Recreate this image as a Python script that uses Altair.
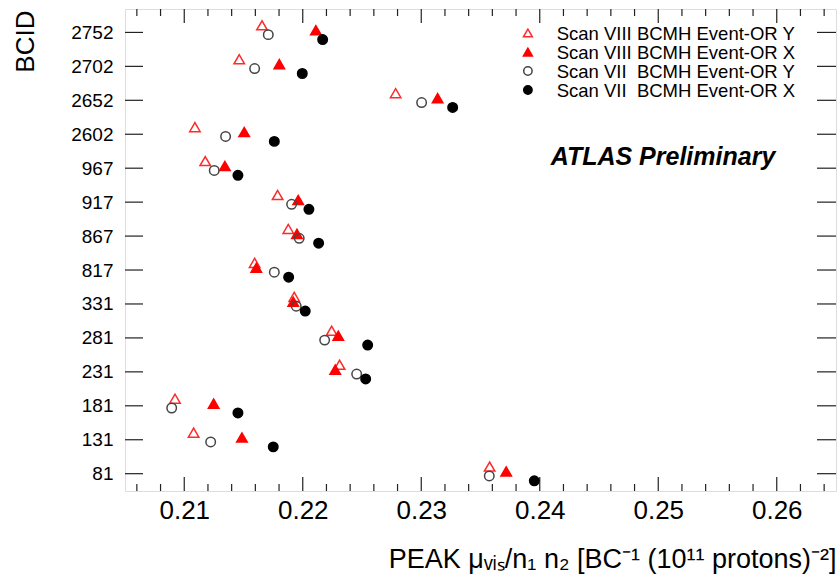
import altair as alt
import pandas as pd

# ---------------- data ----------------
bcid_labels = ["81", "131", "181", "231", "281", "331", "817", "867",
               "917", "967", "2602", "2652", "2702", "2752"]

series_names = [
    "Scan VIII BCMH Event-OR Y",
    "Scan VIII BCMH Event-OR X",
    "Scan VII\u00a0 BCMH Event-OR Y",
    "Scan VII\u00a0 BCMH Event-OR X",
]

scan8_y = [0.23577, 0.21079, 0.20922, 0.22311, 0.22244, 0.21928, 0.21594,
           0.21878, 0.21788, 0.21177, 0.21090, 0.22784, 0.21464, 0.21656]
scan8_x = [0.23717, 0.21487, 0.21248, 0.22274, 0.22300, 0.21920, 0.21608,
           0.21951, 0.21962, 0.21343, 0.21506, 0.23138, 0.21802, 0.22111]
scan7_y = [0.23574, 0.21223, 0.20894, 0.22455, 0.22185, 0.21945, 0.21760,
           0.21970, 0.21906, 0.21253, 0.21349, 0.23003, 0.21594, 0.21709]
scan7_x = [0.23954, 0.21751, 0.21453, 0.22531, 0.22548, 0.22021, 0.21881,
           0.22134, 0.22052, 0.21453, 0.21760, 0.23265, 0.21996, 0.22168]

y_offsets = [0.21, 0.065, -0.065, -0.21]
series_shapes = ["triangle-up", "triangle-up", "circle", "circle"]
series_fill = ["transparent", "#ff0000", "transparent", "#000000"]
series_stroke = ["#ff2a2a", "#ff0000", "#444444", "#000000"]

x_major = [0.21, 0.22, 0.23, 0.24, 0.25, 0.26]
x_minor = [round(0.206 + 0.002 * k, 3) for k in range(30)]
x_minor = [v for v in x_minor if all(abs(v - m) > 1e-6 for m in x_major)]

atlas_text = ["ATLAS Preliminary"]
atlas_x = [0.2504]
atlas_y = [9.1]

# legend placement (in data coordinates of the plot)
legend_symbol_x = 0.23900
legend_text_x = 0.24143
legend_rows_y = [12.983, 12.423, 11.863, 11.303]

rows = []
for s, vals, off in zip(series_names, [scan8_y, scan8_x, scan7_y, scan7_x], y_offsets):
    for i, v in enumerate(vals):
        rows.append({"series": s, "bcid": bcid_labels[i], "peak": v, "pos": i + off})
df = pd.DataFrame(rows)

leg_df = pd.DataFrame({
    "series": series_names,
    "sx": [legend_symbol_x] * 4,
    "tx": [legend_text_x] * 4,
    "ly": legend_rows_y,
})

# ---------------- layout ----------------
W, H = 711, 482
FONT = "Liberation Sans"
FRAME = "#222222"

xscale = alt.Scale(domain=[0.205, 0.265], nice=False, zero=False)
yscale = alt.Scale(domain=[-0.51, 13.69], nice=False, zero=False)

label_expr = "[" + ",".join("'%s'" % b for b in bcid_labels) + "][datum.value]"

x_title = "PEAK \u03bc\u1d65\u1d62\u209b/n\u2081 n\u2082 [BC\u207b\u00b9 (10\u00b9\u00b9 protons)\u207b\u00b2]"

x_axis = alt.Axis(
    values=x_major, format=".2f", labelFont=FONT, labelFontSize=26,
    labelColor="black", ticks=False, domain=False, grid=False,
    labelPadding=6, title=x_title, titleFont=FONT, titleFontSize=27,
    titleFontWeight="normal", titleColor="black", titleX=W, titleY=76,
    titleAlign="right", titleBaseline="alphabetic")
y_axis = alt.Axis(
    values=list(range(len(bcid_labels))), labelExpr=label_expr,
    labelFont=FONT, labelFontSize=19, labelColor="black", ticks=False,
    domain=False, grid=False, labelPadding=12, title="BCID",
    titleFont=FONT, titleFontSize=26, titleFontWeight="normal",
    titleColor="black", titleX=-92, titleY=1, titleAlign="right",
    titleBaseline="alphabetic", titleAngle=270)

shape_scale = alt.Scale(domain=series_names, range=series_shapes)
fill_scale = alt.Scale(domain=series_names, range=series_fill)
stroke_scale = alt.Scale(domain=series_names, range=series_stroke)

def xenc(field):
    return alt.X(field, scale=xscale, axis=x_axis, title=x_title)

def yenc(field):
    return alt.Y(field, scale=yscale, axis=y_axis, title="BCID")

def style_enc():
    return dict(
        shape=alt.Shape("series:N", scale=shape_scale, legend=None),
        fill=alt.Fill("series:N", scale=fill_scale, legend=None),
        stroke=alt.Stroke("series:N", scale=stroke_scale, legend=None),
    )

def point_layer(data, names, size, xf, yf):
    return alt.Chart(data).transform_filter(
        alt.FieldOneOfPredicate(field="series", oneOf=names)
    ).mark_point(strokeWidth=1.5, opacity=1, size=size).encode(
        x=xenc(xf), y=yenc(yf), **style_enc())

xmaj_df = pd.DataFrame({"v": x_major})
xmin_df = pd.DataFrame({"v": x_minor})
yt_df = pd.DataFrame({"i": list(range(len(bcid_labels)))})

def xticks(data, y1, y2):
    return alt.Chart(data).mark_rule(color=FRAME, strokeWidth=1.2).encode(
        x=xenc("v:Q"), y=alt.value(y1), y2=alt.value(y2))

def yticks(x1, x2):
    return alt.Chart(yt_df).mark_rule(color=FRAME, strokeWidth=1.2).encode(
        y=yenc("i:Q"), x=alt.value(x1), x2=alt.value(x2))

ticks = [
    xticks(xmaj_df, H, H - 14), xticks(xmin_df, H, H - 7),
    xticks(xmaj_df, 0, 14), xticks(xmin_df, 0, 7),
    yticks(0, 18), yticks(W - 19, W),
]

atlas = alt.Chart(pd.DataFrame({"t": atlas_text, "x": atlas_x, "y": atlas_y})).mark_text(
    font=FONT, fontSize=25, fontWeight="bold", fontStyle="italic",
    align="center", baseline="alphabetic", color="black").encode(
    x=xenc("x:Q"), y=yenc("y:Q"), text="t:N")

legend_text = alt.Chart(leg_df).mark_text(
    font=FONT, fontSize=18.5, align="left", baseline="middle", color="black", dy=1).encode(
    x=xenc("tx:Q"), y=yenc("ly:Q"), text="series:N")

chart = alt.layer(
    *ticks,
    point_layer(df, series_names[:2], 110, "peak:Q", "pos:Q"),
    point_layer(df, series_names[2:], 90, "peak:Q", "pos:Q"),
    point_layer(leg_df, series_names[:2], 80, "sx:Q", "ly:Q"),
    point_layer(leg_df, series_names[2:], 70, "sx:Q", "ly:Q"),
    legend_text,
    atlas,
).properties(
    width=W, height=H,
    autosize=alt.AutoSizeParams(type="none"),
    padding={"left": 125, "top": 9, "right": 3, "bottom": 89},
).configure_view(stroke=FRAME, strokeWidth=2).configure(background="white")

chart.save("out.html", embed_options={"renderer": "svg", "actions": False})
